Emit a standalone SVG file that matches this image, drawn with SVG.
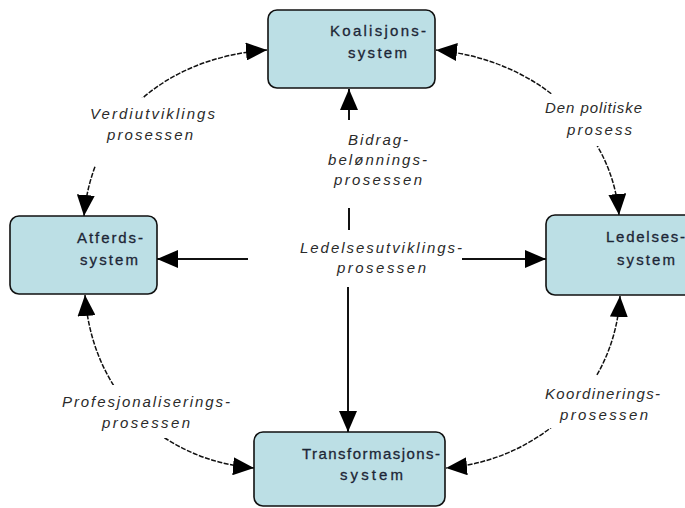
<svg xmlns="http://www.w3.org/2000/svg" width="685" height="508" viewBox="0 0 685 508">
<defs>
<style>
.box{fill:#bcdfe5;stroke:#111;stroke-width:1.6}
.bt{font-family:"Liberation Sans",Arial,sans-serif;font-size:15px;fill:#1c2636;stroke:#1c2636;stroke-width:0.3}
.lt{font-family:"Liberation Sans",Arial,sans-serif;font-size:15px;font-style:italic;fill:#2a2a2a}
.arc{fill:none;stroke:#111;stroke-width:1.5;stroke-dasharray:5 1.5}
.ln{fill:none;stroke:#111;stroke-width:2}
.bg{fill:#fff}
</style>
<marker id="ah" markerUnits="userSpaceOnUse" markerWidth="22" markerHeight="18" refX="21" refY="9" orient="auto-start-reverse">
<path d="M0,0 L21,9 L0,18 Z" fill="#000"/>
</marker>
</defs>
<rect width="685" height="508" fill="#fff"/>
<g id="connectors">
<path class="arc" d="M84 216 C 92 125, 160 58, 267 50" marker-start="url(#ah)" marker-end="url(#ah)"/>
<path class="arc" d="M619 215 C 612 130, 540 60, 436 50" marker-start="url(#ah)" marker-end="url(#ah)"/>
<path class="arc" d="M85 295 C 92 392, 160 460, 254 468" marker-start="url(#ah)" marker-end="url(#ah)"/>
<path class="arc" d="M620 296 C 615 390, 540 460, 446 468" marker-start="url(#ah)" marker-end="url(#ah)"/>
<line class="ln" x1="349" y1="120" x2="349" y2="89" marker-end="url(#ah)"/>
<line class="ln" x1="349" y1="208" x2="349" y2="230"/>
<line class="ln" x1="348" y1="287" x2="348" y2="432" marker-end="url(#ah)"/>
<line class="ln" x1="248" y1="259" x2="157" y2="259" marker-end="url(#ah)"/>
<line class="ln" x1="462" y1="259" x2="546" y2="259" marker-end="url(#ah)"/>
</g>
<g id="label-verdi">
<rect class="bg" x="86" y="98" width="134" height="68"/>
<text class="lt" x="90" y="119" textLength="125" lengthAdjust="spacing">Verdiutviklings</text>
<text class="lt" x="107" y="140" textLength="86" lengthAdjust="spacing">prosessen</text>
</g>
<g id="label-politisk">
<rect class="bg" x="540" y="94" width="112" height="52"/>
<text class="lt" x="545" y="113" textLength="97" lengthAdjust="spacing">Den politiske</text>
<text class="lt" x="567" y="135" textLength="65" lengthAdjust="spacing">prosess</text>
</g>
<g id="label-bidrag">
<text class="lt" x="348" y="145" textLength="60" lengthAdjust="spacing">Bidrag-</text>
<text class="lt" x="328" y="165" textLength="99" lengthAdjust="spacing">belønnings-</text>
<text class="lt" x="334" y="185" textLength="88" lengthAdjust="spacing">prosessen</text>
</g>
<g id="label-ledelsesutv">
<text class="lt" x="300" y="253" textLength="162" lengthAdjust="spacing">Ledelsesutviklings-</text>
<text class="lt" x="337" y="273" textLength="89" lengthAdjust="spacing">prosessen</text>
</g>
<g id="label-profesjon">
<rect class="bg" x="56" y="385" width="180" height="53"/>
<text class="lt" x="62" y="407" textLength="168" lengthAdjust="spacing">Profesjonaliserings-</text>
<text class="lt" x="102" y="428" textLength="88" lengthAdjust="spacing">prosessen</text>
</g>
<g id="label-koord">
<rect class="bg" x="540" y="376" width="126" height="52"/>
<text class="lt" x="545" y="399" textLength="115" lengthAdjust="spacing">Koordinerings-</text>
<text class="lt" x="560" y="420" textLength="88" lengthAdjust="spacing">prosessen</text>
</g>
<g id="koalisjon">
<rect class="box" x="268" y="10" width="167" height="78" rx="9"/>
<text class="bt" x="330" y="36" textLength="96" lengthAdjust="spacing">Koalisjons-</text>
<text class="bt" x="348" y="58" textLength="59" lengthAdjust="spacing">system</text>
</g>
<g id="atferd">
<rect class="box" x="10" y="216" width="147" height="78" rx="9"/>
<text class="bt" x="77" y="243" textLength="66" lengthAdjust="spacing">Atferds-</text>
<text class="bt" x="80" y="265" textLength="58" lengthAdjust="spacing">system</text>
</g>
<g id="ledelse">
<rect class="box" x="546" y="215" width="160" height="80" rx="9"/>
<text class="bt" x="606" y="242" textLength="79" lengthAdjust="spacing">Ledelses-</text>
<text class="bt" x="617" y="265" textLength="58" lengthAdjust="spacing">system</text>
</g>
<g id="transformasjon">
<rect class="box" x="254" y="432" width="191" height="74" rx="9"/>
<text class="bt" x="302" y="459" textLength="138" lengthAdjust="spacing">Transformasjons-</text>
<text class="bt" x="340" y="480" textLength="63" lengthAdjust="spacing">system</text>
</g>
</svg>
